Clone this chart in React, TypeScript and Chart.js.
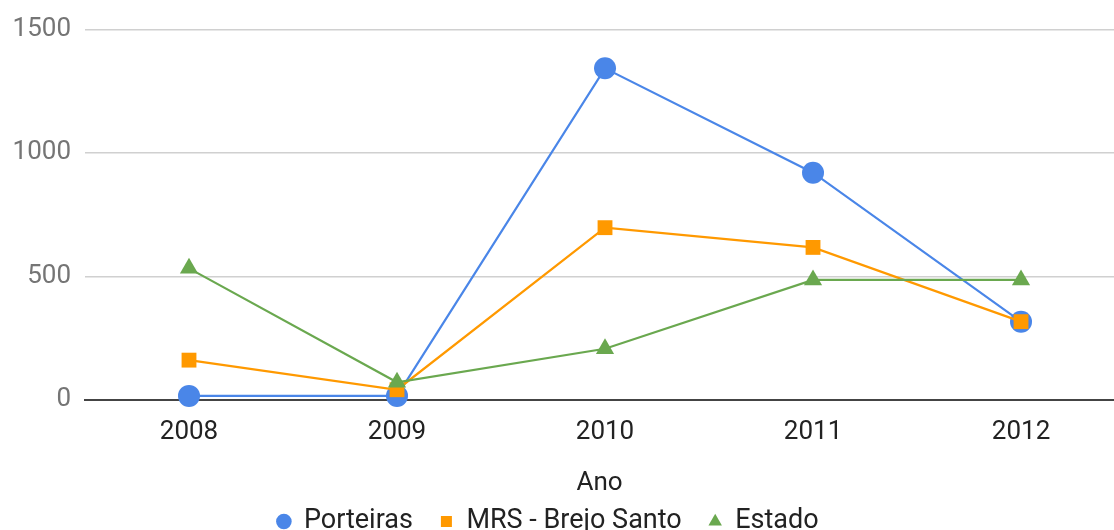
import React, { useEffect, useRef } from "react";
import { Chart, registerables } from "chart.js";

Chart.register(...registerables);

const years = [2008, 2009, 2010, 2011, 2012];
const porteiras = [15, 15, 1343, 920, 316];
const mrsBrejoSanto = [160, 40, 697, 617, 316];
const estado = [532, 70, 206, 485, 485];
const yTicks = [0, 500, 1000, 1500];

const seriesNames = ["Porteiras", "MRS - Brejo Santo", "Estado"];
const colors = ["#4a86e8", "#ff9900", "#6aa84f"];
const pointStyles = ["circle", "rect", "triangle"];
const radii = [11, 10.5, 10.5];

const legendShift = {
  id: "legendShift",
  afterLayout(chart: any) {
    const lg = chart.legend;
    if (lg) {
      lg.left -= 9;
      lg.right -= 9;
    }
  },
};

export default function App() {
  const ref = useRef<HTMLCanvasElement | null>(null);

  useEffect(() => {
    if (!ref.current) return;
    const all = [porteiras, mrsBrejoSanto, estado];
    const chart = new Chart(ref.current, {
      type: "line",
      data: {
        datasets: all.map((vals, i) => ({
          label: seriesNames[i],
          data: years.map((yr, j) => ({ x: yr, y: vals[j] })),
          borderColor: colors[i],
          backgroundColor: colors[i],
          pointBackgroundColor: colors[i],
          pointBorderColor: colors[i],
          pointStyle: pointStyles[i] as any,
          pointRadius: radii[i],
          pointBorderWidth: 0,
          borderWidth: 2.2,
          tension: 0,
          clip: false,
          order: 3 - i,
        })),
      },
      plugins: [legendShift],
      options: {
        animation: false,
        responsive: false,
        maintainAspectRatio: false,
        layout: { autoPadding: false, padding: { top: 10, left: 0, right: 0, bottom: -15 } },
        plugins: {
          tooltip: { enabled: false },
          legend: {
            position: "bottom",
            labels: {
              usePointStyle: true,
              boxWidth: 13,
              boxHeight: 11,
              padding: 27,
              color: "#222",
              font: { family: "Roboto", size: 27 },
              sort: (a: any, b: any) => a.datasetIndex - b.datasetIndex,
            },
          },
        },
        scales: {
          x: {
            type: "linear",
            min: 2007.5,
            max: 2012.447,
            afterBuildTicks: (scale: any) => {
              scale.ticks = years.map((v) => ({ value: v }));
            },
            grid: { display: false, drawTicks: false },
            border: { display: true, color: "#444", width: 2 },
            ticks: {
              color: "#222",
              padding: 17,
              font: { family: "Roboto", size: 26 },
              callback: (v: any) => String(v),
            },
            title: {
              display: true,
              text: "Ano",
              color: "#222",
              font: { family: "Roboto", size: 26 },
              padding: { top: 3, bottom: -18 },
            },
          },
          y: {
            min: 0,
            max: 1500,
            afterBuildTicks: (scale: any) => {
              scale.ticks = yTicks.map((v) => ({ value: v }));
            },
            afterFit: (scale: any) => {
              scale.width = 85;
            },
            grid: {
              color: "#d0d0d0",
              lineWidth: 1.5,
              drawTicks: false,
            },
            border: { display: false },
            ticks: {
              color: "#757575",
              padding: 14,
              font: { family: "Roboto", size: 26 },
              callback: (v: any) => String(v),
            },
          },
        },
      },
    } as any);
    return () => chart.destroy();
  }, []);

  return (
    <div style={{ position: "fixed", left: 0, top: 0, width: 1114, height: 530, background: "#fff" }}>
      <canvas ref={ref} width={1114} height={530} />
    </div>
  );
}
